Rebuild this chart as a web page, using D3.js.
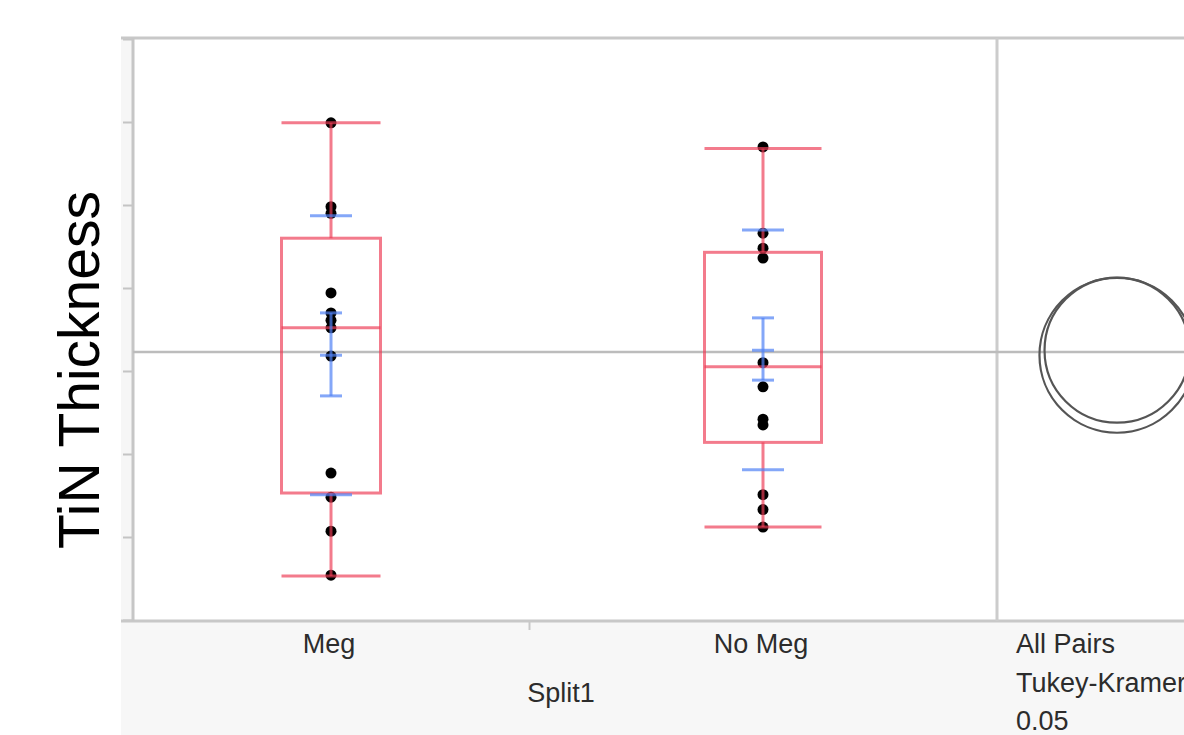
<!DOCTYPE html>
<html><head><meta charset="utf-8">
<script src="https://cdn.jsdelivr.net/npm/d3@7"></script>
<style>
body{margin:0;background:#fff;}
svg{display:block;font-family:"Liberation Sans",Arial,sans-serif;}
</style>
</head><body><svg id="c" width="1184" height="735"></svg>
<script>
// ---- data (arbitrary thickness units) ----
const groups = ["Meg", "No Meg"];
const groupN = [11, 13];
const megPoints = [5.99, 4.98, 4.90, 3.94, 3.70, 3.61, 3.52, 3.18, 1.77, 1.48, 1.07, 0.54];
const noMegPoints = [5.70, 4.66, 4.48, 4.36, 3.10, 2.81, 2.42, 2.35, 1.51, 1.33, 1.12];
const whiskerHi = [5.99, 5.68];
const q3 = [4.60, 4.43];
const median = [3.52, 3.05];
const q1 = [1.53, 2.14];
const whiskerLo = [0.53, 1.12];
const means = [3.19, 3.25];
const ciHi = [3.70, 3.64];
const ciLo = [2.70, 2.89];
const sdHi = [4.87, 4.70];
const sdLo = [1.51, 1.81];
const circleRadius = [0.934, 0.873];
const grandMean = 3.23;
const yTicks = [0, 1, 2, 3, 4, 5, 6, 7];
const compareLabels = ["All Pairs", "Tukey-Kramer", "0.05"];
const xTitle = "Split1";
const yTitle = "TiN Thickness";

// ---- layout ----
const W = 1184, H = 735;
const plotL = 133, plotT = 38, plotB = 621, sepX = 997;
const svg = d3.select("#c");

const cum = [0]; groupN.forEach(n => cum.push(cum[cum.length - 1] + n));
const x = d3.scaleLinear().domain([0, cum[cum.length - 1]]).range([plotL, sepX]);
const y = d3.scaleLinear().domain([0, 7]).range([620, 39]);
const center = i => x((cum[i] + cum[i + 1]) / 2);
const bandW = i => x(cum[i + 1]) - x(cum[i]);

// backgrounds
svg.append("rect").attr("x", 0).attr("y", 0).attr("width", W).attr("height", H).attr("fill", "#fff");
svg.append("rect").attr("x", 121).attr("y", plotT).attr("width", 11).attr("height", H - plotT).attr("fill", "#f6f6f6");
svg.append("rect").attr("x", 121).attr("y", plotB).attr("width", W - 121).attr("height", H - plotB).attr("fill", "#f7f7f7");

// y axis ticks (labels not visible)
const yAxis = d3.axisLeft(y).tickValues(yTicks).tickSize(9).tickFormat("");
const gy = svg.append("g").attr("transform", `translate(${plotL - 1},0)`).call(yAxis);
gy.select(".domain").remove();
gy.selectAll(".tick line").attr("stroke", "#c4c4c4").attr("stroke-width", 2);

// x axis separator tick between groups
const xAxis = d3.axisBottom(x).tickValues(cum.slice(1, -1)).tickSize(9).tickFormat("");
const gx = svg.append("g").attr("transform", `translate(0,${plotB})`).call(xAxis);
gx.select(".domain").remove();
gx.selectAll(".tick line").attr("stroke", "#c8c8c8").attr("stroke-width", 2);

// frame lines
svg.append("line").attr("x1", 121).attr("x2", W).attr("y1", plotT).attr("y2", plotT).attr("stroke", "#c8c8c8").attr("stroke-width", 3);
svg.append("line").attr("x1", 121).attr("x2", W).attr("y1", plotB).attr("y2", plotB).attr("stroke", "#c8c8c8").attr("stroke-width", 3);
svg.append("line").attr("x1", plotL).attr("x2", plotL).attr("y1", plotT).attr("y2", plotB).attr("stroke", "#c6c6c6").attr("stroke-width", 3);
svg.append("line").attr("x1", sepX).attr("x2", sepX).attr("y1", plotT).attr("y2", plotB).attr("stroke", "#cccccc").attr("stroke-width", 3);

// grand mean line
svg.append("line").attr("x1", plotL).attr("x2", W).attr("y1", y(grandMean)).attr("y2", y(grandMean))
  .attr("stroke", "#bcbcbc").attr("stroke-width", 2.5);

// points
const allPoints = [megPoints, noMegPoints];
allPoints.forEach((pts, i) => {
  svg.append("g").selectAll("circle").data(pts).join("circle")
    .attr("cx", center(i)).attr("cy", d => y(d)).attr("r", 5.5).attr("fill", "#000");
});

// box plots
const red = "rgb(238,60,85)";
groups.forEach((g, i) => {
  const cx = center(i), bw = bandW(i) * 0.25;
  const gb = svg.append("g").attr("stroke", red).attr("stroke-opacity", 0.68).attr("stroke-width", 3).attr("fill", "none");
  gb.append("rect").attr("x", cx - bw / 2).attr("y", y(q3[i])).attr("width", bw).attr("height", y(q1[i]) - y(q3[i]));
  gb.append("line").attr("x1", cx - bw / 2).attr("x2", cx + bw / 2).attr("y1", y(median[i])).attr("y2", y(median[i]));
  gb.append("line").attr("x1", cx).attr("x2", cx).attr("y1", y(whiskerHi[i])).attr("y2", y(q3[i]));
  gb.append("line").attr("x1", cx).attr("x2", cx).attr("y1", y(q1[i])).attr("y2", y(whiskerLo[i]));
  gb.append("line").attr("x1", cx - bw / 2).attr("x2", cx + bw / 2).attr("y1", y(whiskerHi[i])).attr("y2", y(whiskerHi[i]));
  gb.append("line").attr("x1", cx - bw / 2).attr("x2", cx + bw / 2).attr("y1", y(whiskerLo[i])).attr("y2", y(whiskerLo[i]));
});

// mean, CI and SD bars
const blue = "rgb(80,130,245)";
groups.forEach((g, i) => {
  const cx = center(i);
  const gm = svg.append("g").attr("stroke", blue).attr("stroke-opacity", 0.7).attr("stroke-width", 3);
  gm.append("line").attr("x1", cx).attr("x2", cx).attr("y1", y(ciHi[i])).attr("y2", y(ciLo[i]));
  [ciHi[i], means[i], ciLo[i]].forEach(v => gm.append("line").attr("x1", cx - 11).attr("x2", cx + 11).attr("y1", y(v)).attr("y2", y(v)));
  [sdHi[i], sdLo[i]].forEach(v => gm.append("line").attr("x1", cx - 21).attr("x2", cx + 21).attr("y1", y(v)).attr("y2", y(v)));
});

// comparison circles
const circX = 1117;
groups.forEach((g, i) => {
  svg.append("circle").attr("cx", circX).attr("cy", y(means[i]))
    .attr("r", y(0) - y(circleRadius[i]))
    .attr("fill", "none").attr("stroke", "#555").attr("stroke-width", 2.2);
});

// category labels
groups.forEach((g, i) => {
  svg.append("text").attr("x", center(i) - 2).attr("y", 653).attr("text-anchor", "middle")
    .attr("font-size", 27).attr("fill", "#2c2c2c").text(g);
});
svg.append("text").attr("x", x(cum[1]) + 32).attr("y", 702).attr("text-anchor", "middle")
  .attr("font-size", 27).attr("fill", "#2c2c2c").text(xTitle);
compareLabels.forEach((t, k) => {
  svg.append("text").attr("x", 1016).attr("y", 653 + k * 38.5)
    .attr("font-size", 27).attr("fill", "#2c2c2c").text(t);
});

// y title
svg.append("text").attr("transform", `translate(99,370) rotate(-90)`).attr("text-anchor", "middle")
  .attr("font-size", 57).attr("fill", "#000").text(yTitle);
</script>
</body></html>
